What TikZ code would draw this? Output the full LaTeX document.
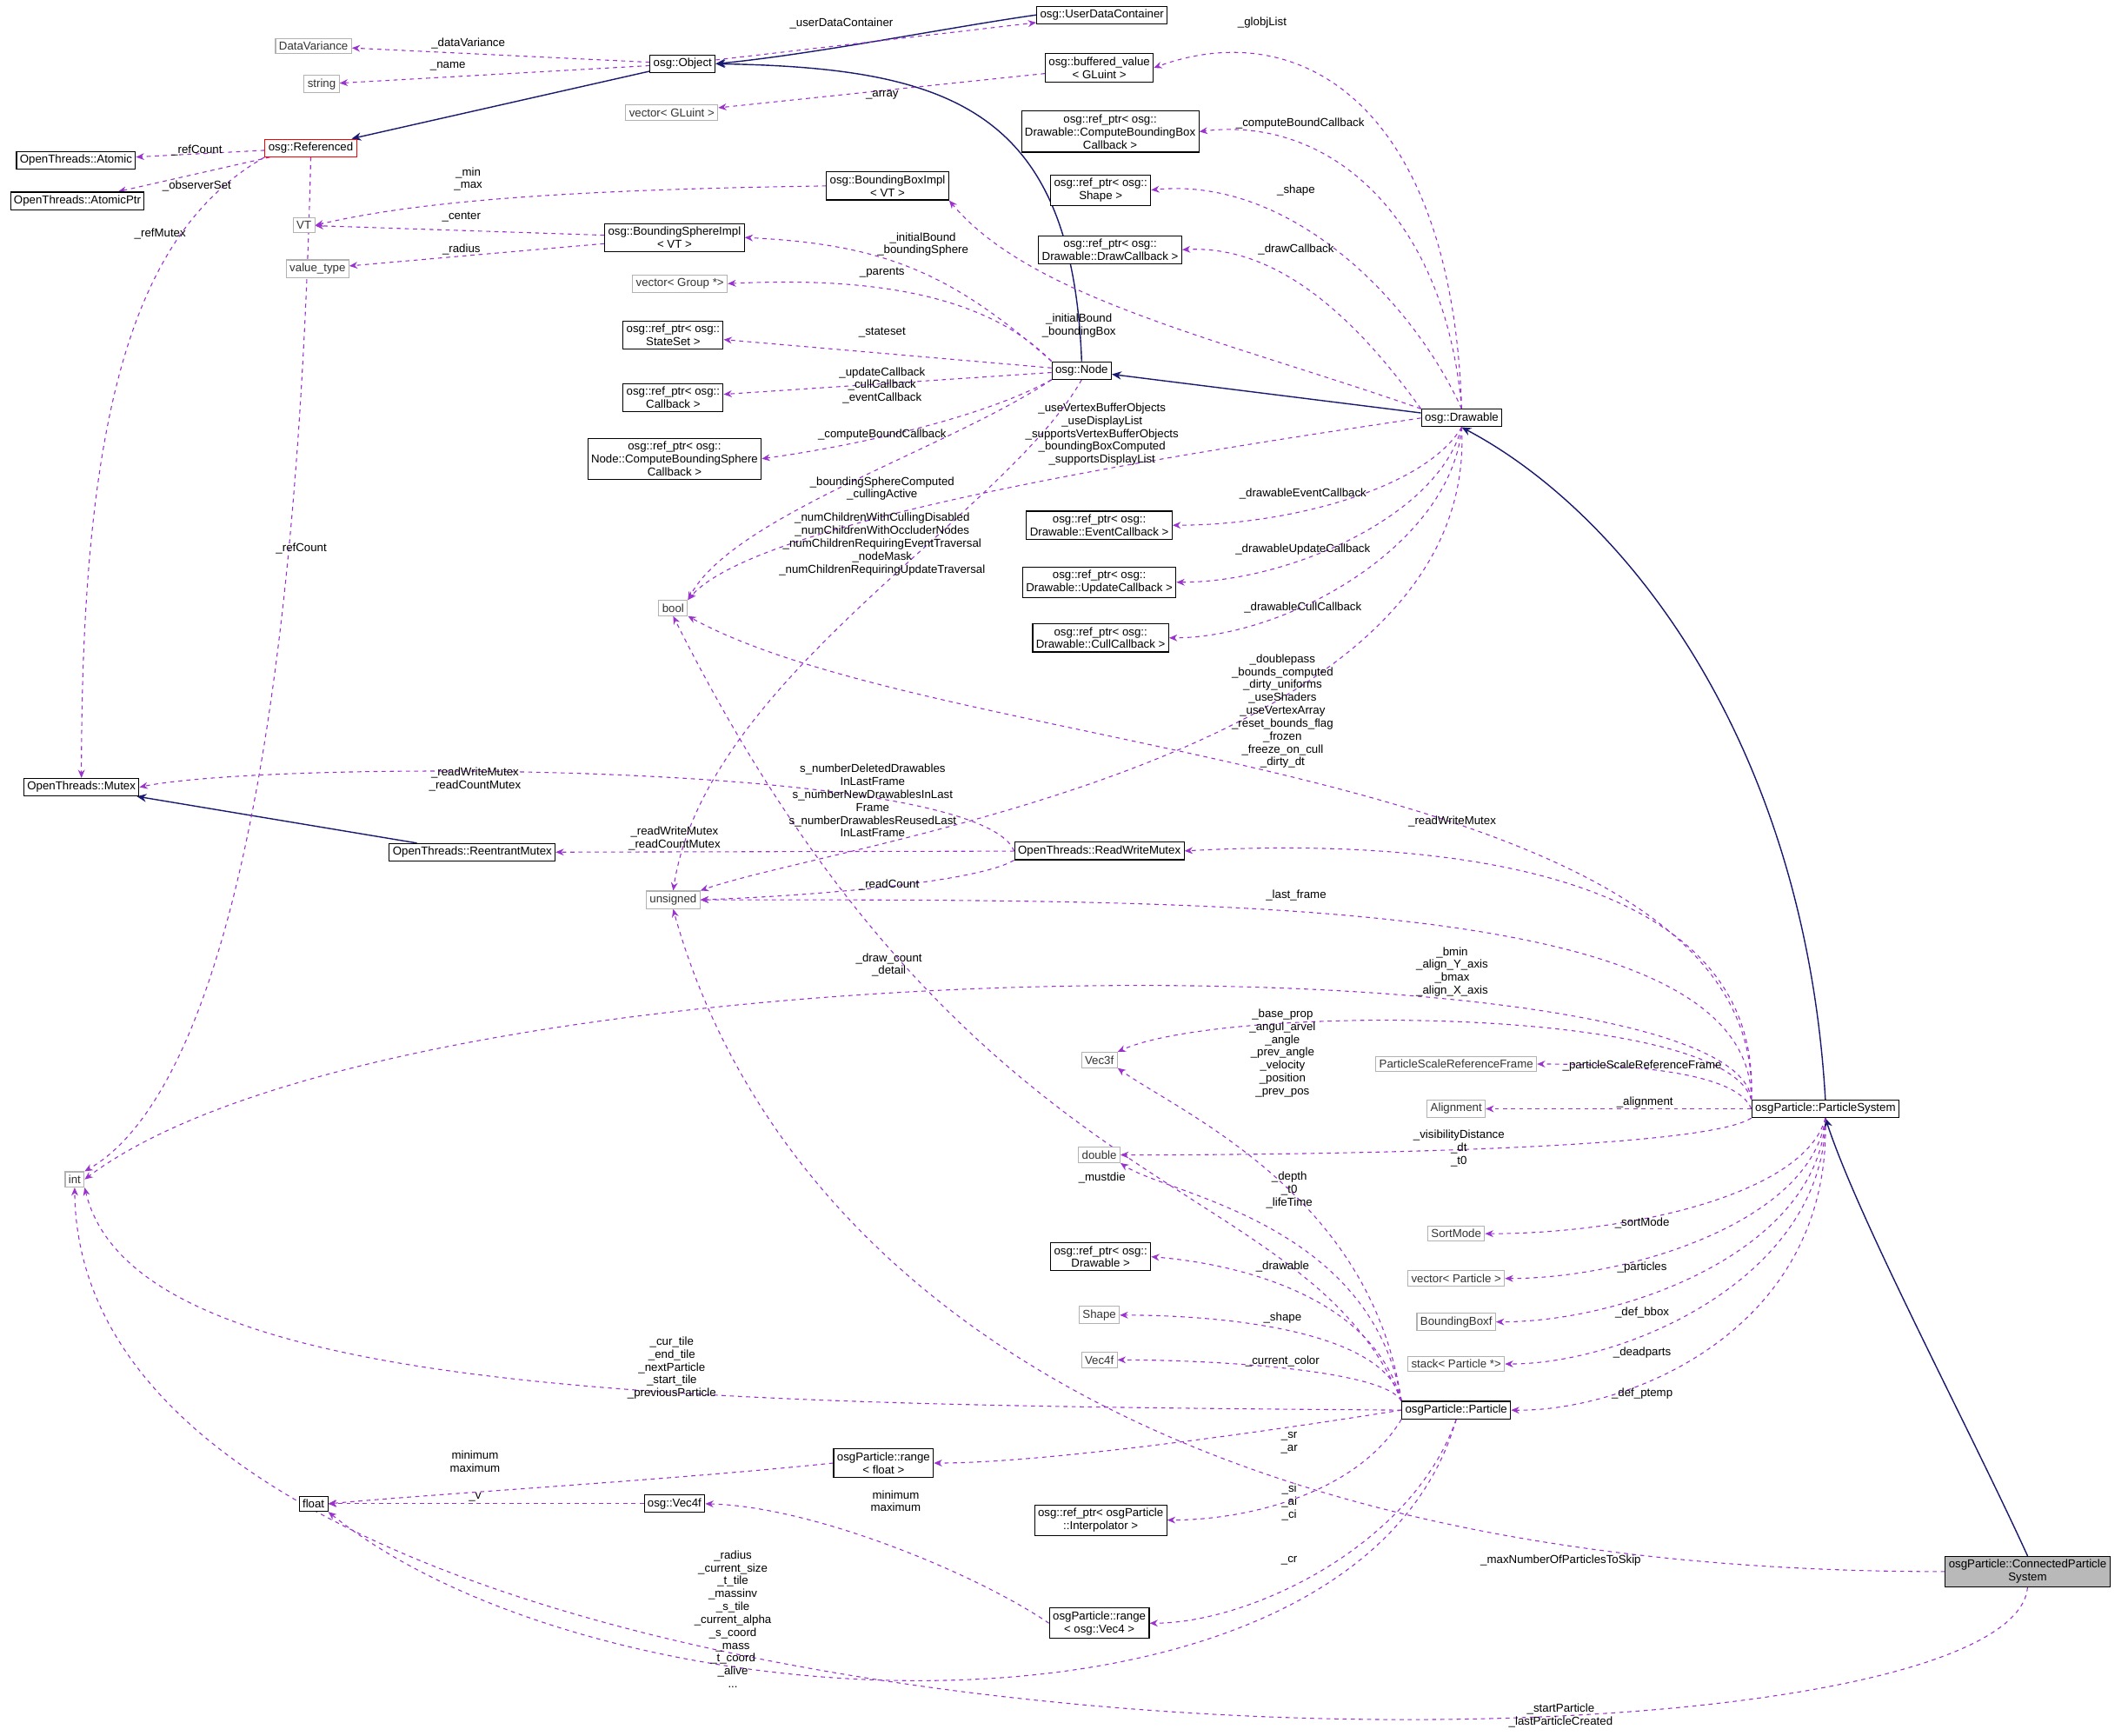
\documentclass[tikz,border=0pt]{standalone}
\usepackage{fontspec}
\setmainfont{Liberation Sans}
\usetikzlibrary{arrows.meta,backgrounds}
\definecolor{dep}{HTML}{9A32CD}
\definecolor{inh}{HTML}{191970}
\begin{document}
\begin{tikzpicture}[x=1pt,y=-1pt,
  every node/.style={font=\fontsize{8.5}{9.5}\selectfont},
  cls/.style={draw=black,fill=white,inner sep=2.5pt,align=center,line width=0.7pt},
  ext/.style={draw=gray!60,fill=white,inner sep=2.5pt,align=center,line width=0.7pt,text=black!80},
  lab/.style={align=center,inner sep=0pt},
  dp/.style={draw=dep,dashed,line width=0.7pt,-{Stealth[length=6pt,width=5pt]}},
  ih/.style={draw=inh,line width=0.9pt,-{Stealth[length=7pt,width=6pt]}}]
\useasboundingbox (0,0) rectangle (1568,1279);
% nodes
\node[ext] (dv) at (231,34) {DataVariance};
\node[ext] (str) at (237,62) {string};
\node[cls] (obj) at (503,47) {osg::Object};
\node[cls] (udc) at (812,11) {osg::UserDataContainer};
\node[cls,draw=red] (ref) at (229,109) {osg::Referenced};
\node[cls] (atom) at (56,118) {OpenThreads::Atomic};
\node[cls] (aptr) at (57,148) {OpenThreads::AtomicPtr};
\node[ext] (vgl) at (495,83) {vector< GLuint >};
\node[cls] (buf) at (810,50) {osg::buffered\_value\\< GLuint >};
\node[cls] (cbb) at (818,97) {osg::ref\_ptr< osg::\\Drawable::ComputeBoundingBox\\Callback >};
\node[cls] (bbi) at (654,137) {osg::BoundingBoxImpl\\< VT >};
\node[ext] (vt) at (224,166) {VT};
\node[cls] (bsi) at (497,175) {osg::BoundingSphereImpl\\< VT >};
\node[ext] (vtp) at (234,198) {value\_type};
\node[cls] (rsh) at (811,140) {osg::ref\_ptr< osg::\\Shape >};
\node[cls] (rdc) at (818,184) {osg::ref\_ptr< osg::\\Drawable::DrawCallback >};
\node[ext] (vgr) at (501,209) {vector< Group *>};
\node[cls] (rss) at (496,247) {osg::ref\_ptr< osg::\\StateSet >};
\node[cls] (rcb) at (496,293) {osg::ref\_ptr< osg::\\Callback >};
\node[cls] (node) at (797,273) {osg::Node};
\node[cls] (rcbs) at (497,338) {osg::ref\_ptr< osg::\\Node::ComputeBoundingSphere\\Callback >};
\node[cls] (drw) at (1077,308) {osg::Drawable};
\node[cls] (rec) at (810,387) {osg::ref\_ptr< osg::\\Drawable::EventCallback >};
\node[cls] (ruc) at (810,429) {osg::ref\_ptr< osg::\\Drawable::UpdateCallback >};
\node[cls] (rcc) at (811,470) {osg::ref\_ptr< osg::\\Drawable::CullCallback >};
\node[ext] (bool) at (496,448) {bool};
\node[cls] (mtx) at (60,580) {OpenThreads::Mutex};
\node[cls] (rmtx) at (348,628) {OpenThreads::ReentrantMutex};
\node[cls] (rwm) at (810,627) {OpenThreads::ReadWriteMutex};
\node[ext] (uns) at (496,663) {unsigned};
\node[ext] (int) at (55,869) {int};
\node[ext] (v3) at (810,781) {Vec3f};
\node[ext] (psrf) at (1073,784) {ParticleScaleReferenceFrame};
\node[ext] (aln) at (1073,817) {Alignment};
\node[cls] (ps) at (1345,817) {osgParticle::ParticleSystem};
\node[ext] (dbl) at (810,851) {double};
\node[ext] (sm) at (1073,909) {SortMode};
\node[ext] (vp) at (1073,942) {vector< Particle >};
\node[ext] (bbf) at (1073,974) {BoundingBoxf};
\node[ext] (stk) at (1073,1005) {stack< Particle *>};
\node[cls] (rdr) at (811,926) {osg::ref\_ptr< osg::\\Drawable >};
\node[ext] (shp) at (810,969) {Shape};
\node[ext] (v4) at (810,1002) {Vec4f};
\node[cls] (par) at (1073,1039) {osgParticle::Particle};
\node[cls] (rf) at (651,1078) {osgParticle::range\\< float >};
\node[cls] (flt) at (231,1108) {float};
\node[cls] (ov4) at (497,1108) {osg::Vec4f};
\node[cls] (rip) at (811,1120) {osg::ref\_ptr< osgParticle\\::Interpolator >};
\node[cls] (rv4) at (810,1196) {osgParticle::range\\< osg::Vec4 >};
\node[cls,fill=gray!55] (cps) at (1494,1158) {osgParticle::ConnectedParticle\\System};
% labels
\node[lab] (l1) at (345,32) {\_dataVariance};
\node[lab] (l2) at (330,49) {\_name};
\node[lab] (l3) at (620,17) {\_userDataContainer};
\node[lab] (l4) at (145,111) {\_refCount};
\node[lab] (l5) at (145,137) {\_observerSet};
\node[lab] (l6) at (118,172) {\_refMutex};
\node[lab] (l7) at (222,404) {\_refCount};
\node[lab] (l8) at (650,70) {\_array};
\node[lab] (l9) at (930,17) {\_globjList};
\node[lab] (l10) at (958,91) {\_computeBoundCallback};
\node[lab] (l11) at (955,140) {\_shape};
\node[lab] (l12) at (955,184) {\_drawCallback};
\node[lab] (l13) at (795,240) {\_initialBound\\\_boundingBox};
\node[lab] (l14) at (680,180) {\_initialBound\\\_boundingSphere};
\node[lab] (l15) at (345,132) {\_min\\\_max};
\node[lab] (l16) at (340,160) {\_center};
\node[lab] (l17) at (340,184) {\_radius};
\node[lab] (l18) at (650,201) {\_parents};
\node[lab] (l19) at (650,245) {\_stateset};
\node[lab] (l20) at (650,284) {\_updateCallback\\\_cullCallback\\\_eventCallback};
\node[lab] (l21) at (650,320) {\_computeBoundCallback};
\node[lab] (l22) at (650,360) {\_boundingSphereComputed\\\_cullingActive};
\node[lab] (l23) at (812,320) {\_useVertexBufferObjects\\\_useDisplayList\\\_supportsVertexBufferObjects\\\_boundingBoxComputed\\\_supportsDisplayList};
\node[lab] (l24) at (650,401) {\_numChildrenWithCullingDisabled\\\_numChildrenWithOccluderNodes\\\_numChildrenRequiringEventTraversal\\\_nodeMask\\\_numChildrenRequiringUpdateTraversal};
\node[lab] (l25) at (960,364) {\_drawableEventCallback};
\node[lab] (l26) at (960,405) {\_drawableUpdateCallback};
\node[lab] (l27) at (960,448) {\_drawableCullCallback};
\node[lab] (l28) at (945,524) {\_doublepass\\\_bounds\_computed\\\_dirty\_uniforms\\\_useShaders\\\_useVertexArray\\\_reset\_bounds\_flag\\\_frozen\\\_freeze\_on\_cull\\\_dirty\_dt};
\node[lab] (l29) at (643,590) {s\_numberDeletedDrawables\\InLastFrame\\s\_numberNewDrawablesInLast\\Frame\\s\_numberDrawablesReusedLast\\InLastFrame};
\node[lab] (l30) at (350,574) {\_readWriteMutex\\\_readCountMutex};
\node[lab] (l31) at (497,618) {\_readWriteMutex\\\_readCountMutex};
\node[lab] (l32) at (655,652) {\_readCount};
\node[lab] (l33) at (1070,605) {\_readWriteMutex};
\node[lab] (l34) at (955,660) {\_last\_frame};
\node[lab] (l35) at (655,711) {\_draw\_count\\\_detail};
\node[lab] (l36) at (1070,716) {\_bmin\\\_align\_Y\_axis\\\_bmax\\\_align\_X\_axis};
\node[lab] (l37) at (1210,785) {\_particleScaleReferenceFrame};
\node[lab] (l38) at (1212,812) {\_alignment};
\node[lab] (l39) at (1075,846) {\_visibilityDistance\\\_dt\\\_t0};
\node[lab] (l40) at (1210,901) {\_sortMode};
\node[lab] (l41) at (1210,934) {\_particles};
\node[lab] (l42) at (1210,967) {\_def\_bbox};
\node[lab] (l43) at (1210,997) {\_deadparts};
\node[lab] (l44) at (1210,1027) {\_def\_ptemp};
\node[lab] (l45) at (945,776) {\_base\_prop\\\_angul\_arvel\\\_angle\\\_prev\_angle\\\_velocity\\\_position\\\_prev\_pos};
\node[lab] (l46) at (950,877) {\_depth\\\_t0\\\_lifeTime};
\node[lab] (l47) at (812,868) {\_mustdie};
\node[lab] (l48) at (945,933) {\_drawable};
\node[lab] (l49) at (945,971) {\_shape};
\node[lab] (l50) at (945,1003) {\_current\_color};
\node[lab] (l51) at (495,1008) {\_cur\_tile\\\_end\_tile\\\_nextParticle\\\_start\_tile\\\_previousParticle};
\node[lab] (l52) at (950,1063) {\_sr\\\_ar};
\node[lab] (l53) at (950,1107) {\_si\\\_ai\\\_ci};
\node[lab] (l54) at (950,1150) {\_cr};
\node[lab] (l55) at (540,1193) {\_radius\\\_current\_size\\\_t\_tile\\\_massinv\\\_s\_tile\\\_current\_alpha\\\_s\_coord\\\_mass\\\_t\_coord\\\_alive\\...};
\node[lab] (l56) at (350,1077) {minimum\\maximum};
\node[lab] (l57) at (350,1103) {\_v};
\node[lab] (l58) at (660,1106) {minimum\\maximum};
\node[lab] (l59) at (1150,1150) {\_maxNumberOfParticlesToSkip};
\node[lab] (l60) at (1150,1264) {\_startParticle\\\_lastParticleCreated};
\begin{scope}[on background layer]
% inheritance
\draw[ih] (udc.west) .. controls (700,20) and (600,40) .. (obj.east);
\draw[ih] (obj) -- (ref);
\draw[ih] (node.north) .. controls (790,80) and (700,50) .. (obj.east);
\draw[ih] (drw) -- (node);
\draw[ih] (ps.north) .. controls (1330,550) and (1200,380) .. (drw.south);
\draw[ih] (cps.north) .. controls (1450,1050) and (1370,900) .. (ps.south);
\draw[ih] (rmtx) -- (mtx);
% dependencies
\draw[dp] (obj) -- (dv);
\draw[dp] (obj) -- (str);
\draw[dp] (obj) -- (udc);
\draw[dp] (ref) -- (atom);
\draw[dp] (ref) -- (aptr);
\draw[dp] (ref.south west) .. controls (100,170) and (60,300) .. (mtx.north);
\draw[dp] (ref.south) .. controls (215,700) and (120,830) .. (int.north east);
\draw[dp] (buf) -- (vgl);
\draw[dp] (drw.north) .. controls (1070,80) and (960,10) .. (buf.east);
\draw[dp] (drw.north) .. controls (1065,160) and (980,85) .. (cbb.east);
\draw[dp] (drw.north) .. controls (1040,220) and (950,130) .. (rsh.east);
\draw[dp] (drw.north west) .. controls (1010,250) and (950,180) .. (rdc.east);
\draw[dp] (drw.north west) .. controls (900,250) and (760,220) .. (bbi.south east);
\draw[dp] (node.north west) .. controls (700,200) and (650,180) .. (bsi.east);
\draw[dp] (bbi.west) .. controls (400,140) and (300,150) .. (vt.east);
\draw[dp] (bsi) -- (vt);
\draw[dp] (bsi) -- (vtp);
\draw[dp] (node.north west) .. controls (720,210) and (620,205) .. (vgr.east);
\draw[dp] (node) -- (rss);
\draw[dp] (node) -- (rcb);
\draw[dp] (node.south west) .. controls (720,310) and (620,330) .. (rcbs.east);
\draw[dp] (node.south west) .. controls (700,330) and (540,380) .. (bool.north east);
\draw[dp] (drw.west) .. controls (900,330) and (560,380) .. (bool.north east);
\draw[dp] (node.south) .. controls (740,380) and (520,500) .. (uns.north);
\draw[dp] (drw.south) .. controls (1050,360) and (950,387) .. (rec.east);
\draw[dp] (drw.south) .. controls (1060,380) and (950,429) .. (ruc.east);
\draw[dp] (drw.south) .. controls (1070,400) and (950,470) .. (rcc.east);
\draw[dp] (ps.north west) .. controls (1300,560) and (700,560) .. (bool.south east);
\draw[dp] (drw.south) .. controls (1090,560) and (620,620) .. (uns.north east);
\draw[dp] (rwm.west) .. controls (720,560) and (200,560) .. (mtx.east);
\draw[dp] (rwm) -- (rmtx);
\draw[dp] (rwm.south west) .. controls (720,650) and (600,660) .. (uns.east);
\draw[dp] (ps.north west) .. controls (1300,620) and (1000,620) .. (rwm.east);
\draw[dp] (ps.north west) .. controls (1290,660) and (900,663) .. (uns.east);
\draw[dp] (ps.north west) .. controls (1280,690) and (300,690) .. (int.east);
\draw[dp] (ps.north west) .. controls (1270,740) and (900,740) .. (v3.north east);
\draw[dp] (ps.west) .. controls (1280,790) and (1200,784) .. (psrf.east);
\draw[dp] (ps) -- (aln);
\draw[dp] (ps.south west) .. controls (1250,850) and (900,851) .. (dbl.east);
\draw[dp] (ps.south) .. controls (1330,880) and (1200,909) .. (sm.east);
\draw[dp] (ps.south) .. controls (1335,900) and (1200,942) .. (vp.east);
\draw[dp] (ps.south) .. controls (1340,920) and (1200,974) .. (bbf.east);
\draw[dp] (ps.south) .. controls (1345,940) and (1200,1005) .. (stk.east);
\draw[dp] (ps.south) .. controls (1350,980) and (1200,1040) .. (par.east);
\draw[dp] (par.north west) .. controls (1010,880) and (870,820) .. (v3.south east);
\draw[dp] (par.north west) .. controls (1010,900) and (860,880) .. (dbl.south east);
\draw[dp] (par.north west) .. controls (960,860) and (720,900) .. (bool.south);
\draw[dp] (par.north west) .. controls (1010,950) and (900,930) .. (rdr.east);
\draw[dp] (par.north west) .. controls (1020,980) and (900,969) .. (shp.east);
\draw[dp] (par.north west) .. controls (1020,1010) and (900,1002) .. (v4.east);
\draw[dp] (par.west) .. controls (500,1035) and (100,1030) .. (int.south east);
\draw[dp] (par.west) .. controls (900,1060) and (760,1078) .. (rf.east);
\draw[dp] (par.south west) .. controls (1000,1100) and (920,1120) .. (rip.east);
\draw[dp] (par.south) .. controls (1040,1140) and (920,1196) .. (rv4.east);
\draw[dp] (par.south) .. controls (1000,1300) and (450,1280) .. (flt.south east);
\draw[dp] (rf.west) .. controls (500,1090) and (330,1100) .. (flt.east);
\draw[dp] (ov4) -- (flt);
\draw[dp] (rv4.west) .. controls (720,1160) and (600,1110) .. (ov4.east);
\draw[dp] (cps.west) .. controls (800,1158) and (560,900) .. (uns.south);
\draw[dp] (cps.south) .. controls (1480,1330) and (60,1330) .. (int.south);
\end{scope}
\end{tikzpicture}
\end{document}
